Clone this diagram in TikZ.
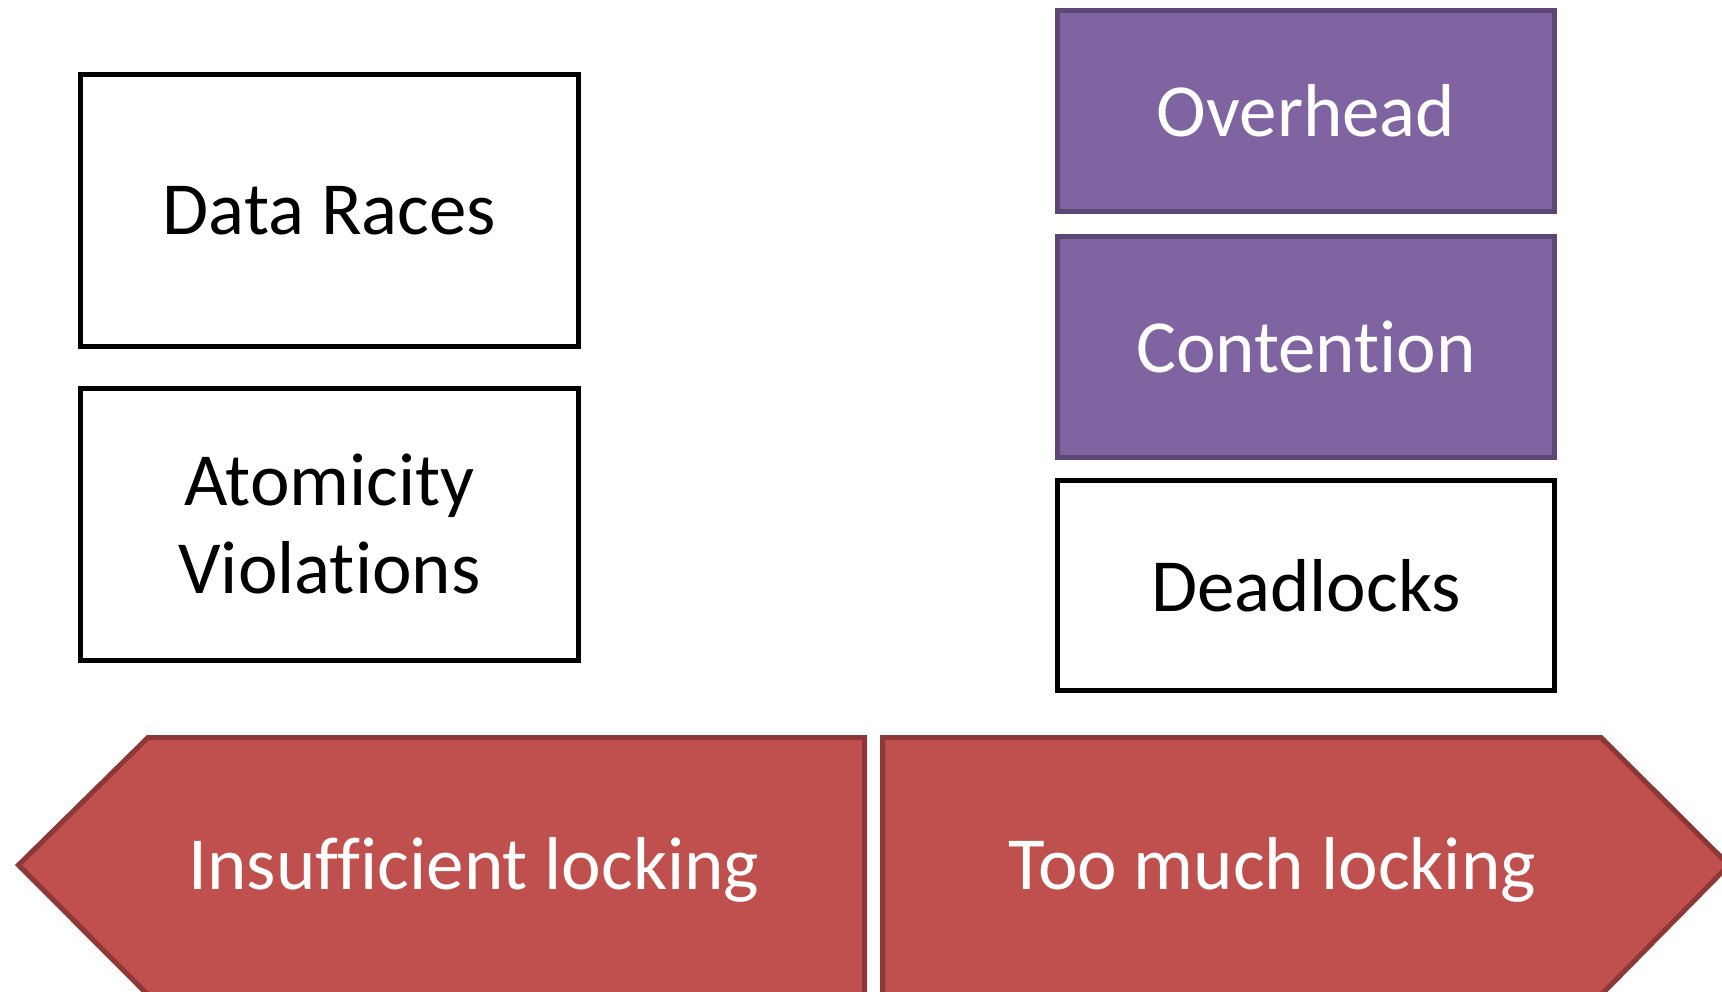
\documentclass[tikz,border=0pt]{standalone}
\usepackage{fontspec}
\setmainfont{Carlito}[Ligatures=NoCommon]
\definecolor{lockred}{HTML}{C0504D}
\definecolor{lockredline}{HTML}{8C3836}
\definecolor{costpurple}{HTML}{8064A2}
\definecolor{costpurpleline}{HTML}{5C4776}
\tikzset{
    bugbox/.style={draw=black, line width=5pt, minimum width=498pt, align=center,
        font=\fontsize{75}{88}\selectfont},
    costbox/.style={fill=costpurple, draw=costpurpleline, line width=5pt, minimum width=497pt,
        text=white, align=center, font=\fontsize{75}{88}\selectfont},
    lockarrow/.style={fill=lockred, draw=lockredline, line width=5pt, line join=miter},
    locklabel/.style={text=white, font=\fontsize{75}{88}\selectfont}
}
\begin{document}
\begin{tikzpicture}[x=1pt, y=-1pt]
    \useasboundingbox (0,0) rectangle (1722,992);
    \clip (0,0) rectangle (1722,992);

    % Problems of too little locking
    \node[bugbox, minimum height=272pt] (races) at (329.5,211) {Data Races};
    \node[bugbox, minimum height=272pt] (atomic) at (329.5,524) {Atomicity\\Violations};

    % Problems of too much locking
    \node[costbox, minimum height=201pt] (overhead) at (1306,111) {Overhead};
    \node[costbox, minimum height=221pt] (contention) at (1306,347) {Contention};
    \node[bugbox, minimum width=497pt, minimum height=210pt] (deadlocks) at (1306,585.5) {Deadlocks};

    % Two arrows along the bottom
    \draw[lockarrow] (864.5,737.5) -- (148,737.5) -- (18.5,865) -- (148,995) -- (864.5,995) -- cycle;
    \draw[lockarrow] (882.5,737.5) -- (1601,737.5) -- (1729,865) -- (1601,995) -- (882.5,995) -- cycle;
    \node[locklabel] (insufficient) at (474,870) {Insufficient locking};
    \node[locklabel] (toomuch) at (1272,870) {Too much locking};
\end{tikzpicture}
\end{document}
